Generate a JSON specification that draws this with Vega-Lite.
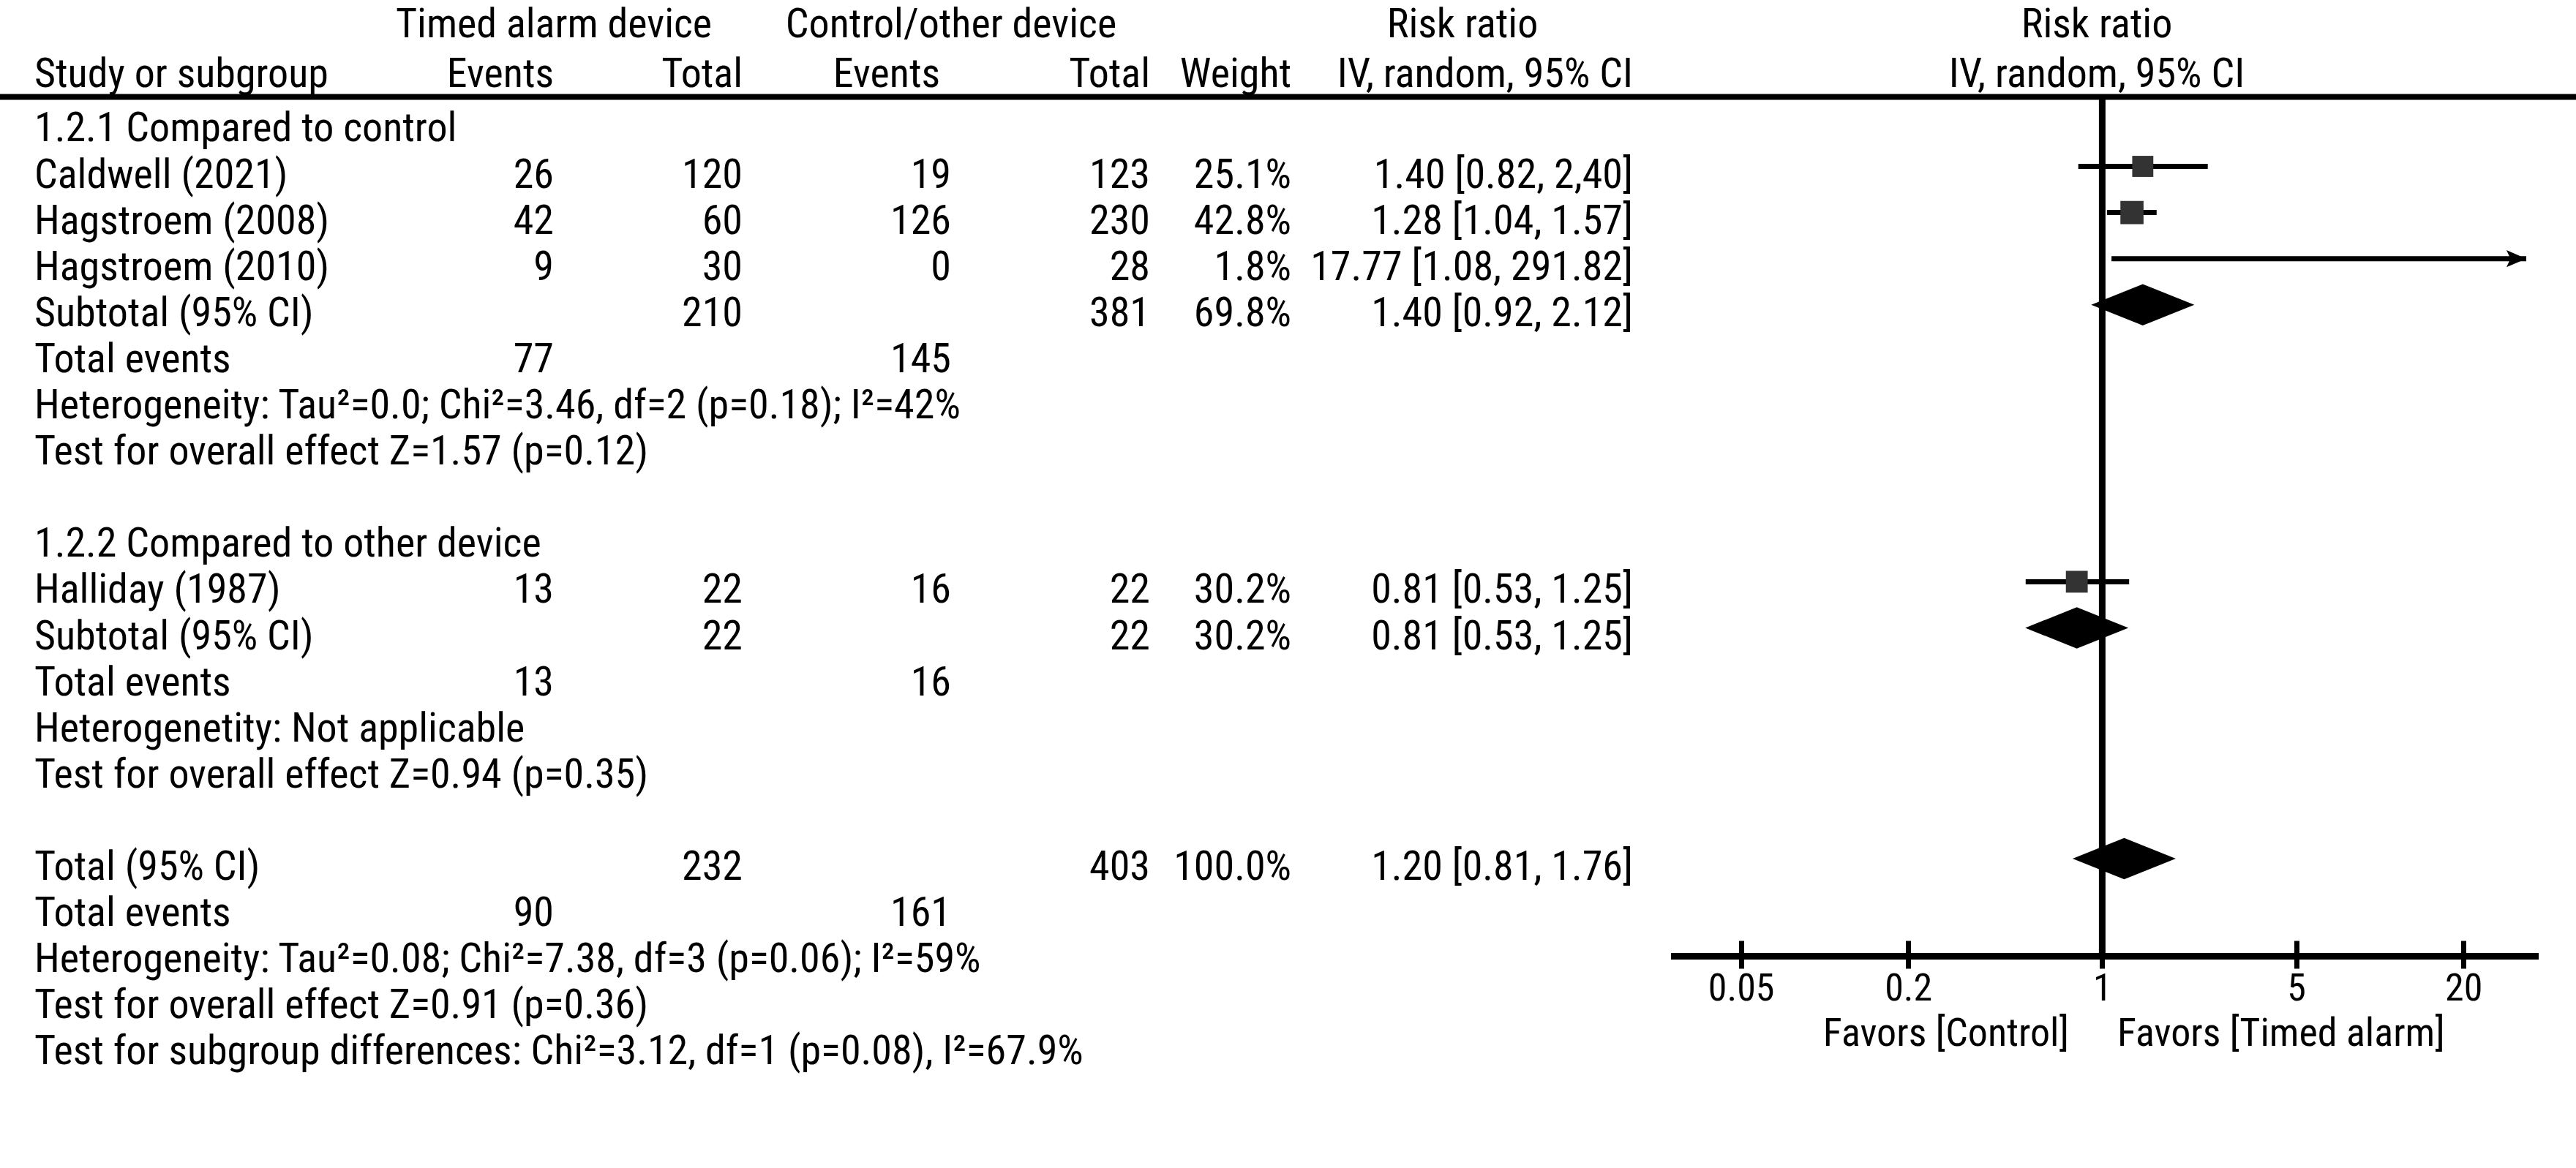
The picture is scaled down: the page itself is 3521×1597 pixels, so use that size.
{
  "$schema": "https://vega.github.io/schema/vega-lite/v6.json",
  "width": 3521,
  "height": 1597,
  "autosize": {"type": "none"},
  "padding": 0,
  "background": "white",
  "config": {
    "view": {"stroke": null},
    "font": "Roboto Condensed, Noto Sans Condensed, Noto Sans SemiCondensed, DejaVu Sans Condensed, Liberation Sans Narrow, sans-serif",
    "text": {"fontSize": 56, "color": "black"}
  },
  "datasets": {
    "table": [
      {"row": -2.257, "tgrp": "Timed alarm device", "cgrp": "Control/other device", "rrgrp": "Risk ratio", "pgrp": "Risk ratio"},
      {"row": -1.179, "study": "Study or subgroup", "tev": "Events", "ttot": "Total", "cevh": "Events", "ctot": "Total", "wt": "Weight", "rr": "IV, random, 95% CI", "pgrp": "IV, random, 95% CI"},
      {"row": 0, "study": "1.2.1 Compared to control"},
      {"row": 1, "study": "Caldwell (2021)", "tev": "26", "ttot": "120", "cev": "19", "ctot": "123", "wt": "25.1%", "rr": "1.40 [0.82, 2,40]"},
      {"row": 2, "study": "Hagstroem (2008)", "tev": "42", "ttot": "60", "cev": "126", "ctot": "230", "wt": "42.8%", "rr": "1.28 [1.04, 1.57]"},
      {"row": 3, "study": "Hagstroem (2010)", "tev": "9", "ttot": "30", "cev": "0", "ctot": "28", "wt": "1.8%", "rr": "17.77 [1.08, 291.82]"},
      {"row": 4, "study": "Subtotal (95% CI)", "ttot": "210", "ctot": "381", "wt": "69.8%", "rr": "1.40 [0.92, 2.12]"},
      {"row": 5, "study": "Total events", "tev": "77", "cev": "145"},
      {"row": 6, "study": "Heterogeneity: Tau²=0.0; Chi²=3.46, df=2 (p=0.18); I²=42%"},
      {"row": 7, "study": "Test for overall effect Z=1.57 (p=0.12)"},
      {"row": 9, "study": "1.2.2 Compared to other device"},
      {"row": 10, "study": "Halliday (1987)", "tev": "13", "ttot": "22", "cev": "16", "ctot": "22", "wt": "30.2%", "rr": "0.81 [0.53, 1.25]"},
      {"row": 11, "study": "Subtotal (95% CI)", "ttot": "22", "ctot": "22", "wt": "30.2%", "rr": "0.81 [0.53, 1.25]"},
      {"row": 12, "study": "Total events", "tev": "13", "cev": "16"},
      {"row": 13, "study": "Heterogenetity: Not applicable"},
      {"row": 14, "study": "Test for overall effect Z=0.94 (p=0.35)"},
      {"row": 16, "study": "Total (95% CI)", "ttot": "232", "ctot": "403", "wt": "100.0%", "rr": "1.20 [0.81, 1.76]"},
      {"row": 17, "study": "Total events", "tev": "90", "cev": "161"},
      {"row": 18, "study": "Heterogeneity: Tau²=0.08; Chi²=7.38, df=3 (p=0.06); I²=59%"},
      {"row": 19, "study": "Test for overall effect Z=0.91 (p=0.36)"},
      {"row": 20, "study": "Test for subgroup differences: Chi²=3.12, df=1 (p=0.08), I²=67.9%"},
      {"row": 19.62, "favL": "Favors [Control]", "favR": "Favors [Timed alarm]"}
    ],
    "studies": [
      {"row": 1, "study": "Caldwell (2021)", "rr": 1.40, "lo": 0.82, "hi": 2.40, "weight": 25.1},
      {"row": 2, "study": "Hagstroem (2008)", "rr": 1.28, "lo": 1.04, "hi": 1.57, "weight": 42.8},
      {"row": 3, "study": "Hagstroem (2010)", "rr": 17.77, "lo": 1.08, "hi": 291.82, "weight": 1.8},
      {"row": 10, "study": "Halliday (1987)", "rr": 0.81, "lo": 0.53, "hi": 1.25, "weight": 30.2}
    ],
    "pooled": [
      {"row": 4, "label": "Subtotal 1.2.1", "lo": 0.92, "est": 1.40, "hi": 2.12},
      {"row": 11, "label": "Subtotal 1.2.2", "lo": 0.53, "est": 0.81, "hi": 1.25},
      {"row": 16, "label": "Total", "lo": 0.81, "est": 1.20, "hi": 1.76}
    ],
    "refs": [{"name": "no effect", "value": 1}]
  },
  "resolve": {"scale": {"x": "independent"}, "axis": {"x": "independent"}},
  "layer": [
    {
      "data": {"name": "table"},
      "transform": [{"fold": ["tev", "ttot"], "as": ["col", "text"]}, {"filter": "isValid(datum.text)"}],
      "mark": {"type": "text", "align": "right", "baseline": "middle", "dy": 12},
      "encoding": {
        "x": {"field": "col", "type": "nominal", "scale": {"type": "point", "domain": ["tev", "ttot"], "range": [757, 1015], "padding": 0}, "axis": null},
        "y": {"field": "row", "type": "quantitative", "scale": {"domain": [-2.6054, 22.7036], "reverse": true, "nice": false, "zero": false}, "axis": null},
        "text": {"field": "text"}
      }
    },
    {
      "data": {"name": "table"},
      "transform": [{"fold": ["cev", "ctot"], "as": ["col", "text"]}, {"filter": "isValid(datum.text)"}],
      "mark": {"type": "text", "align": "right", "baseline": "middle", "dy": 12},
      "encoding": {
        "x": {"field": "col", "type": "nominal", "scale": {"type": "point", "domain": ["cev", "ctot"], "range": [1300, 1572], "padding": 0}, "axis": null},
        "y": {"field": "row", "type": "quantitative", "scale": {"domain": [-2.6054, 22.7036], "reverse": true, "nice": false, "zero": false}, "axis": null},
        "text": {"field": "text"}
      }
    },
    {
      "data": {"name": "table"},
      "transform": [{"fold": ["wt", "rr"], "as": ["col", "text"]}, {"filter": "isValid(datum.text)"}],
      "mark": {"type": "text", "align": "right", "baseline": "middle", "dy": 12},
      "encoding": {
        "x": {"field": "col", "type": "nominal", "scale": {"type": "point", "domain": ["wt", "rr"], "range": [1765, 2232], "padding": 0}, "axis": null},
        "y": {"field": "row", "type": "quantitative", "scale": {"domain": [-2.6054, 22.7036], "reverse": true, "nice": false, "zero": false}, "axis": null},
        "text": {"field": "text"}
      }
    },
    {
      "data": {"name": "table"},
      "transform": [{"fold": ["cevh"], "as": ["col", "text"]}, {"filter": "isValid(datum.text)"}],
      "mark": {"type": "text", "align": "right", "baseline": "middle", "dy": 12},
      "encoding": {
        "x": {"field": "col", "type": "nominal", "scale": {"type": "point", "domain": ["cevh"], "range": [1285, 1285], "padding": 0}, "axis": null},
        "y": {"field": "row", "type": "quantitative", "scale": {"domain": [-2.6054, 22.7036], "reverse": true, "nice": false, "zero": false}, "axis": null},
        "text": {"field": "text"}
      }
    },
    {
      "data": {"name": "table"},
      "transform": [{"fold": ["study"], "as": ["col", "text"]}, {"filter": "isValid(datum.text)"}],
      "mark": {"type": "text", "align": "left", "baseline": "middle", "dy": 12},
      "encoding": {
        "x": {"field": "col", "type": "nominal", "scale": {"type": "point", "domain": ["study"], "range": [47, 47], "padding": 0}, "axis": null},
        "y": {"field": "row", "type": "quantitative", "scale": {"domain": [-2.6054, 22.7036], "reverse": true, "nice": false, "zero": false}, "axis": null},
        "text": {"field": "text"}
      }
    },
    {
      "data": {"name": "table"},
      "transform": [{"fold": ["favL"], "as": ["col", "text"]}, {"filter": "isValid(datum.text)"}],
      "mark": {"type": "text", "align": "right", "baseline": "middle", "dy": 12, "fontSize": 54},
      "encoding": {
        "x": {"field": "col", "type": "nominal", "scale": {"type": "point", "domain": ["favL"], "range": [2828, 2828], "padding": 0}, "axis": null},
        "y": {"field": "row", "type": "quantitative", "scale": {"domain": [-2.6054, 22.7036], "reverse": true, "nice": false, "zero": false}, "axis": null},
        "text": {"field": "text"}
      }
    },
    {
      "data": {"name": "table"},
      "transform": [{"fold": ["favR"], "as": ["col", "text"]}, {"filter": "isValid(datum.text)"}],
      "mark": {"type": "text", "align": "left", "baseline": "middle", "dy": 12, "fontSize": 54},
      "encoding": {
        "x": {"field": "col", "type": "nominal", "scale": {"type": "point", "domain": ["favR"], "range": [2894, 2894], "padding": 0}, "axis": null},
        "y": {"field": "row", "type": "quantitative", "scale": {"domain": [-2.6054, 22.7036], "reverse": true, "nice": false, "zero": false}, "axis": null},
        "text": {"field": "text"}
      }
    },
    {
      "data": {"name": "table"},
      "transform": [{"fold": ["tgrp", "cgrp"], "as": ["col", "text"]}, {"filter": "isValid(datum.text)"}],
      "mark": {"type": "text", "align": "center", "baseline": "middle", "dy": 12},
      "encoding": {
        "x": {"field": "col", "type": "nominal", "scale": {"type": "point", "domain": ["tgrp", "cgrp"], "range": [757, 1300], "padding": 0}, "axis": null},
        "y": {"field": "row", "type": "quantitative", "scale": {"domain": [-2.6054, 22.7036], "reverse": true, "nice": false, "zero": false}, "axis": null},
        "text": {"field": "text"}
      }
    },
    {
      "data": {"name": "table"},
      "transform": [{"fold": ["rrgrp", "pgrp"], "as": ["col", "text"]}, {"filter": "isValid(datum.text)"}],
      "mark": {"type": "text", "align": "center", "baseline": "middle", "dy": 12},
      "encoding": {
        "x": {"field": "col", "type": "nominal", "scale": {"type": "point", "domain": ["rrgrp", "pgrp"], "range": [1999, 2866], "padding": 0}, "axis": null},
        "y": {"field": "row", "type": "quantitative", "scale": {"domain": [-2.6054, 22.7036], "reverse": true, "nice": false, "zero": false}, "axis": null},
        "text": {"field": "text"}
      }
    },
    {
      "data": {"name": "refs"},
      "mark": {"type": "rule", "color": "black", "strokeWidth": 8},
      "encoding": {
        "y": {"datum": -0.5055, "type": "quantitative", "scale": {"domain": [-2.6054, 22.7036], "reverse": true, "nice": false, "zero": false}, "axis": null}
      }
    },
    {
      "data": {"name": "refs"},
      "mark": {"type": "rule", "color": "black", "strokeWidth": 9},
      "encoding": {
        "x": {"field": "value", "type": "quantitative", "scale": {"type": "log", "domain": [0.02798, 37.34], "range": [2284, 3470], "clamp": true, "nice": false}, "axis": null},
        "y": {"datum": -0.5055, "type": "quantitative", "scale": {"domain": [-2.6054, 22.7036], "reverse": true, "nice": false, "zero": false}, "axis": null},
        "y2": {"datum": 18.117}
      }
    },
    {
      "data": {"name": "refs"},
      "mark": {"type": "rule", "color": "black", "strokeWidth": 9},
      "encoding": {
        "x": {"datum": 0.02798, "type": "quantitative", "scale": {"type": "log", "domain": [0.02798, 37.34], "range": [2284, 3470], "clamp": true, "nice": false}, "axis": null},
        "x2": {"datum": 37.34},
        "y": {"datum": 18.117, "type": "quantitative", "scale": {"domain": [-2.6054, 22.7036], "reverse": true, "nice": false, "zero": false}, "axis": null}
      }
    },
    {
      "data": {"name": "studies"},
      "mark": {"type": "rule", "color": "black", "strokeWidth": 7},
      "encoding": {
        "x": {"field": "lo", "type": "quantitative", "scale": {"type": "log", "domain": [0.02798, 33.67], "range": [2284, 3453], "clamp": true, "nice": false},
          "axis": {"orient": "bottom", "values": [0.05, 0.2, 1, 5, 20], "format": "~g", "offset": -311, "domain": false, "ticks": true, "tickSize": 38, "tickWidth": 7, "tickColor": "black", "labelFontSize": 52, "labelColor": "black", "labelPadding": 2, "labelFlush": false, "labelOverlap": false, "grid": false, "title": null}},
        "x2": {"field": "hi"},
        "y": {"field": "row", "type": "quantitative", "scale": {"domain": [-2.6054, 22.7036], "reverse": true, "nice": false, "zero": false}, "axis": null}
      }
    },
    {
      "data": {"name": "studies"},
      "mark": {"type": "point", "shape": "square", "filled": true, "color": "#333333", "opacity": 1, "strokeWidth": 0},
      "encoding": {
        "x": {"field": "rr", "type": "quantitative", "scale": {"type": "log", "domain": [0.02798, 37.34], "range": [2284, 3470], "clamp": true, "nice": false}, "axis": null},
        "y": {"field": "row", "type": "quantitative", "scale": {"domain": [-2.6054, 22.7036], "reverse": true, "nice": false, "zero": false}, "axis": null},
        "size": {"field": "weight", "type": "quantitative", "scale": {"type": "log", "domain": [1.8, 42.8], "range": [0, 1000]}, "legend": null}
      }
    },
    {
      "data": {"name": "studies"},
      "transform": [{"filter": "datum.hi > 33.67"}],
      "mark": {"type": "point", "shape": "M0,0L-1,-0.43L-0.8,0L-1,0.43Z", "filled": true, "color": "black", "opacity": 1, "size": 2916, "strokeWidth": 0},
      "encoding": {
        "x": {"field": "hi", "type": "quantitative", "scale": {"type": "log", "domain": [0.02798, 33.67], "range": [2284, 3453], "clamp": true, "nice": false}, "axis": null},
        "y": {"field": "row", "type": "quantitative", "scale": {"domain": [-2.6054, 22.7036], "reverse": true, "nice": false, "zero": false}, "axis": null}
      }
    },
    {
      "data": {"name": "pooled"},
      "mark": {"type": "point", "shape": "M-1,0L0,-0.4L1,0L0,0.4Z", "filled": true, "color": "black", "opacity": 1, "size": 19881, "strokeWidth": 0},
      "encoding": {
        "x": {"field": "est", "type": "quantitative", "scale": {"type": "log", "domain": [0.02798, 37.34], "range": [2284, 3470], "clamp": true, "nice": false}, "axis": null},
        "y": {"field": "row", "type": "quantitative", "scale": {"domain": [-2.6054, 22.7036], "reverse": true, "nice": false, "zero": false}, "axis": null}
      }
    }
  ]
}
